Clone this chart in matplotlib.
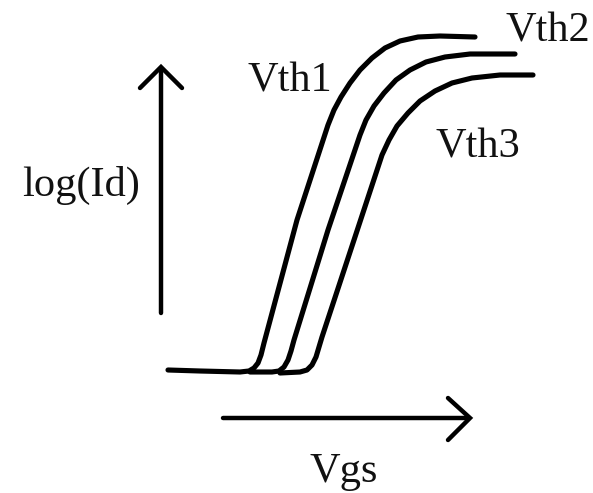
import matplotlib
matplotlib.use("Agg")
import matplotlib.pyplot as plt

# Curves in image pixel coordinates (x right, y down)
vth1_x = [168, 200, 240, 249, 254, 258, 261, 264, 297, 328, 334, 341, 350, 360, 372, 385, 400, 418, 440, 475]
vth1_y = [370, 371, 372, 371, 368, 363, 355, 343, 220, 125, 110, 97, 83, 70, 58, 48, 41, 37, 36, 37]
vth2_x = [250, 272, 279, 284, 288, 291, 294, 328, 360, 366, 374, 384, 396, 410, 426, 445, 470, 515]
vth2_y = [372, 372, 371, 367, 360, 351, 340, 230, 135, 120, 106, 93, 80, 70, 62, 57, 54, 54]
vth3_x = [280, 300, 307, 312, 316, 319, 322, 354, 382, 389, 397, 408, 420, 435, 452, 472, 500, 533]
vth3_y = [373, 372, 370, 365, 357, 347, 337, 240, 155, 140, 126, 113, 101, 91, 83, 78, 75, 75]

labels = ["Vth1", "Vth2", "Vth3"]
label_pos = [(247, 92), (506, 42), (435, 157)]
ylabel = "log(Id)"
xlabel = "Vgs"

fig = plt.figure(figsize=(5.93, 4.93), dpi=100)
ax = fig.add_axes([0, 0, 1, 1])
ax.set_xlim(0, 593)
ax.set_ylim(493, 0)
ax.axis("off")

lw = 3.7
for xs, ys in [(vth1_x, vth1_y), (vth2_x, vth2_y), (vth3_x, vth3_y)]:
    ax.plot(xs, ys, color="black", lw=lw, solid_capstyle="round", solid_joinstyle="round")

# vertical arrow
ax.plot([161, 161], [313, 68], color="black", lw=3.2, solid_capstyle="round")
ax.plot([140, 161, 182], [88, 67, 88], color="black", lw=3.2,
        solid_capstyle="round", solid_joinstyle="miter")
# horizontal arrow
ax.plot([223, 469], [418, 418], color="black", lw=3.2, solid_capstyle="round")
ax.plot([448, 470, 448], [398, 418, 440], color="black", lw=3.2,
        solid_capstyle="round", solid_joinstyle="miter")

font = dict(family=["Liberation Serif", "DejaVu Serif"], fontsize=30.5, color="#111111")
for lab, (x, y) in zip(labels, label_pos):
    ax.text(x, y, lab, ha="left", va="baseline", **font)
ax.text(22, 196, ylabel, ha="left", va="baseline", **font)
ax.text(310, 482, xlabel, ha="left", va="baseline", **font)

fig.savefig("out.png", dpi=100)
